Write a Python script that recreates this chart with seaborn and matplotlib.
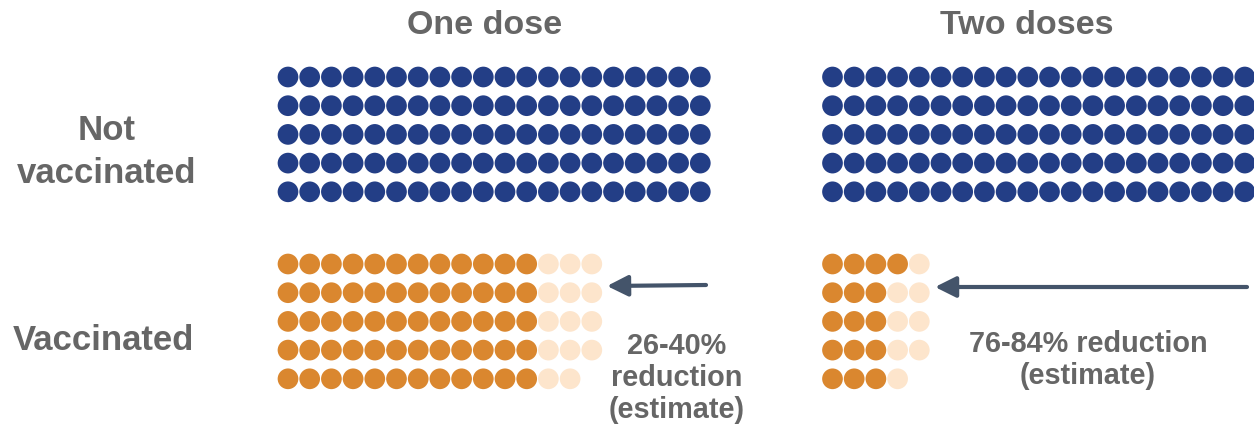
import numpy as np
import pandas as pd
import matplotlib
matplotlib.use("Agg")
import matplotlib.pyplot as plt
import seaborn as sns

# data (dots per row, 5 rows each)
panels = ["One dose", "Two doses"]
not_vaccinated_rows = {"One dose": [20, 20, 20, 20, 20],
                       "Two doses": [20, 20, 20, 20, 20]}
vaccinated_dark_rows = {"One dose": [12, 12, 12, 12, 12],
                        "Two doses": [4, 3, 3, 3, 3]}
vaccinated_light_rows = {"One dose": [3, 3, 3, 3, 2],
                         "Two doses": [1, 2, 2, 2, 1]}
reduction_labels = {"One dose": "26-40%\nreduction\n(estimate)",
                    "Two doses": "76-84% reduction\n(estimate)"}

# layout in pixels
W, H = 1254, 427
panel_x0 = {"One dose": 288, "Two doses": 832.5}
dx, dy = 21.7, 28.7
group_y0 = {"top": 78, "bottom": 265}

rows = []
for p in panels:
    for r, n in enumerate(not_vaccinated_rows[p]):
        for c in range(n):
            rows.append((p, "top", r, c, "not"))
    for r, (nd, nl) in enumerate(zip(vaccinated_dark_rows[p], vaccinated_light_rows[p])):
        for c in range(nd):
            rows.append((p, "bottom", r, c, "dark"))
        for c in range(nd, nd + nl):
            rows.append((p, "bottom", r, c, "light"))
df = pd.DataFrame(rows, columns=["panel", "group", "row", "col", "kind"])
df["x"] = df["panel"].map(panel_x0) + df["col"] * dx
df["y"] = df["group"].map(group_y0) + df["row"] * dy

palette = {"not": "#233E86", "dark": "#DA872F", "light": "#FDE5CC"}
grey = "#666666"

fig = plt.figure(figsize=(W / 100, H / 100), dpi=100)
ax = fig.add_axes([0, 0, 1, 1])
sns.scatterplot(data=df, x="x", y="y", hue="kind", palette=palette,
                s=222, linewidth=0, legend=False, ax=ax)
ax.set_xlim(0, W)
ax.set_ylim(H, 0)
ax.axis("off")

font = ["Liberation Sans", "DejaVu Sans"]
ax.text(485, 25, "One dose", ha="center", va="center", fontsize=24.5,
        fontweight="bold", color=grey, family=font)
ax.text(1027, 25, "Two doses", ha="center", va="center", fontsize=24.5,
        fontweight="bold", color=grey, family=font)
ax.text(107, 152, "Not\nvaccinated", ha="center", va="center", fontsize=25,
        fontweight="bold", color=grey, family=font, linespacing=1.4)
ax.text(103, 341, "Vaccinated", ha="center", va="center", fontsize=25,
        fontweight="bold", color=grey, family=font)

ax.text(677, 378, reduction_labels["One dose"], ha="center", va="center",
        fontsize=20.8, fontweight="bold", color=grey, family=font, linespacing=1.2)
ax.text(1088, 360, reduction_labels["Two doses"], ha="center", va="center",
        fontsize=20.8, fontweight="bold", color=grey, family=font, linespacing=1.2)

arrow_kw = dict(arrowstyle="-|>,head_length=0.9,head_width=0.45", color="#44546A",
                lw=3, mutation_scale=14, shrinkA=0, shrinkB=0)
ax.annotate("", xy=(607, 287), xytext=(706, 286), arrowprops=arrow_kw)
ax.annotate("", xy=(935, 288), xytext=(1247, 288), arrowprops=arrow_kw)

fig.savefig("out.png", dpi=100)
